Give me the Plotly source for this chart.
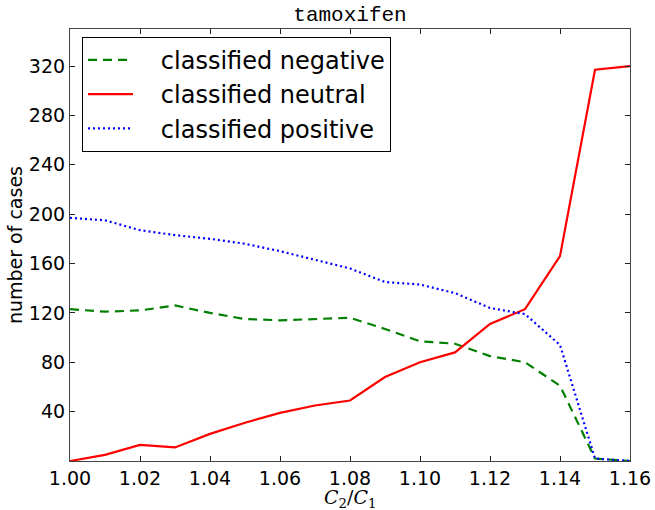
import plotly.graph_objects as go

c_ratio = [1.00, 1.01, 1.02, 1.03, 1.04, 1.05, 1.06, 1.07, 1.08,
           1.09, 1.10, 1.11, 1.12, 1.13, 1.14, 1.15, 1.16]
negative = [123, 121, 122, 126, 120, 115, 114, 115, 116,
            107, 97, 95, 85, 80, 61, 2, 0]
neutral = [0, 5, 13, 11, 22, 31, 39, 45, 49,
           68, 80, 88, 111, 123, 166, 317, 320]
positive = [197, 195, 187, 183, 180, 176, 170, 163, 156,
            145, 143, 136, 124, 119, 94, 2, 0]

x_ticks = [1.00, 1.02, 1.04, 1.06, 1.08, 1.10, 1.12, 1.14, 1.16]
y_ticks = [40, 80, 120, 160, 200, 240, 280, 320]

pad = "&nbsp;&nbsp;&nbsp;"

fig = go.Figure()
fig.add_trace(go.Scatter(x=c_ratio, y=negative, mode="lines", name=pad + "classified negative",
                         line=dict(color="#008000", width=2.2, dash="9px,6px")))
fig.add_trace(go.Scatter(x=c_ratio, y=neutral, mode="lines", name=pad + "classified neutral",
                         line=dict(color="#ff0000", width=2.2)))
fig.add_trace(go.Scatter(x=c_ratio, y=positive, mode="lines", name=pad + "classified positive",
                         line=dict(color="#0000ff", width=2.2, dash="2px,3px")))

axis_common = dict(showline=True, linecolor="#444444", linewidth=1.2, mirror="ticks",
                   ticks="inside", ticklen=5, tickcolor="#222222", showgrid=False,
                   zeroline=False, automargin=False,
                   tickfont=dict(family="DejaVu Sans", size=19, color="black"))

fig.update_layout(
    width=655, height=510,
    margin=dict(l=70, r=25, t=29, b=49),
    paper_bgcolor="white", plot_bgcolor="white",
    title=dict(text="tamoxifen", x=0.5, xref="paper", xanchor="center",
               y=0.987, yref="container", yanchor="top", pad=dict(t=0),
               font=dict(family="Liberation Mono", size=21, color="black")),
    xaxis=dict(range=[1.0, 1.16], tickvals=x_ticks, tickformat=".2f", **axis_common),
    yaxis=dict(range=[0, 350], tickvals=y_ticks, **axis_common),
    legend=dict(x=0.0214, y=0.982, xanchor="left", yanchor="top",
                bordercolor="black", borderwidth=1, bgcolor="white",
                font=dict(family="DejaVu Sans", size=24, color="black"),
                itemwidth=45),
    showlegend=True,
    annotations=[
        dict(text="<i>C</i><sub>2</sub>/<i>C</i><sub>1</sub>", xref="paper", yref="paper",
             x=0.5, y=-0.087, xanchor="center", yanchor="middle", showarrow=False,
             font=dict(family="DejaVu Serif", size=19, color="black")),
        dict(text="number of cases", xref="paper", yref="paper",
             x=-0.098, y=0.5, xanchor="center", yanchor="middle", showarrow=False,
             textangle=-90, font=dict(family="DejaVu Sans", size=19, color="black")),
    ],
)

fig.write_html("out.html", config={"displayModeBar": False},
               post_script="document.body.style.margin='0';document.body.style.overflow='hidden';")
